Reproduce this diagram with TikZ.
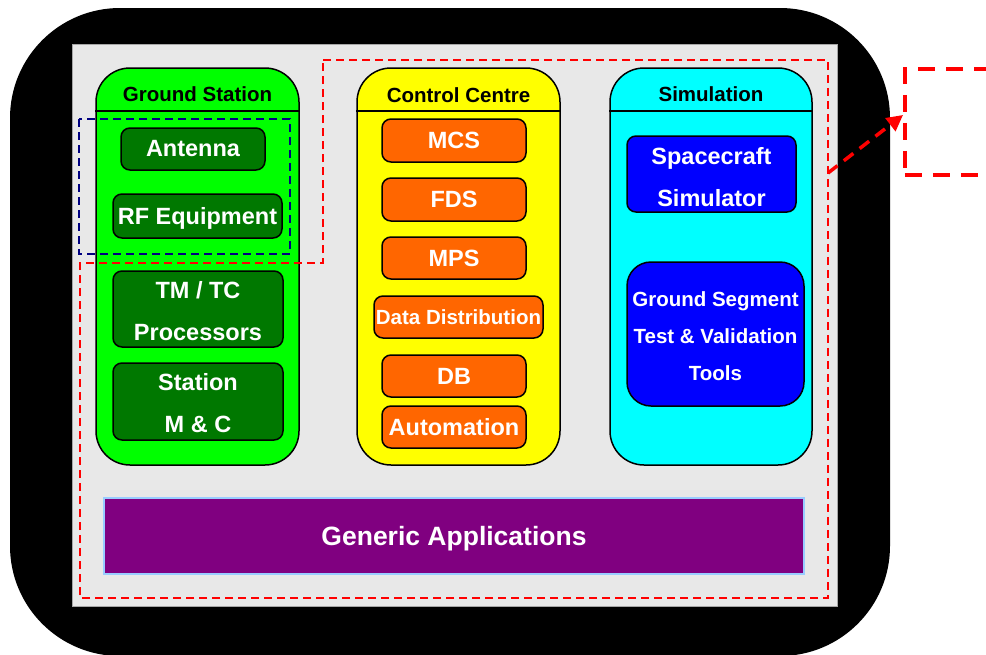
\documentclass[tikz,border=0pt]{standalone}
\usepackage{fontspec}
\setmainfont{Liberation Sans}
\usetikzlibrary{arrows.meta}
\definecolor{bggray}{HTML}{E8E8E8}
\definecolor{dkgreen}{HTML}{007800}
\definecolor{orng}{HTML}{FF6600}
\definecolor{purp}{HTML}{800080}
\definecolor{ltblue}{HTML}{99CCFF}
\definecolor{navyb}{HTML}{000080}
\definecolor{redd}{HTML}{FF0000}
\definecolor{brgreen}{HTML}{00FF00}
\definecolor{bryellow}{HTML}{FFFF00}
\definecolor{brcyan}{HTML}{00FFFF}
\definecolor{brblue}{HTML}{0000FF}
\tikzset{
  col/.style={draw=black, line width=1.5pt, rounded corners=34pt, inner sep=0pt},
  hdr/.style={font=\bfseries\fontsize{20.5}{24}\selectfont, text=black, inner sep=0pt},
  item/.style={draw=black, line width=1.5pt, rounded corners=9pt, inner sep=0pt, text=white, align=center,
     font=\bfseries\fontsize{23.5}{42}\selectfont},
  gitem/.style={item, fill=dkgreen},
  oitem/.style={item, fill=orng},
  bitem/.style={item, fill=brblue},
  reddash/.style={draw=redd, line width=2pt, dash pattern=on 8pt off 5pt},
}
\begin{document}
\begin{tikzpicture}[x=1pt,y=-1pt]
\useasboundingbox (0,0) rectangle (986,654);
\clip (0,0) rectangle (986,654);
% black rounded background
\fill[black, rounded corners=110pt] (10,8) rectangle (890,656);
% gray panel
\draw[fill=bggray, draw=gray!70, line width=1pt] (72,44) rectangle (837,606);
% columns
\node[col, fill=brgreen, minimum width=203pt, minimum height=397pt] (gs) at (197.5,266.5) {};
\node[col, fill=bryellow, minimum width=203pt, minimum height=397pt] (cc) at (458.5,266.5) {};
\node[col, fill=brcyan, minimum width=202pt, minimum height=397pt] (sim) at (711,266.5) {};
\draw[line width=1.5pt] (gs.west |- 0,111) -- (gs.east |- 0,111);
\draw[line width=1.5pt] (cc.west |- 0,111) -- (cc.east |- 0,111);
\draw[line width=1.5pt] (sim.west |- 0,111) -- (sim.east |- 0,111);
\node[hdr] (gsh) at (197.5,94) {Ground Station};
\node[hdr] (cch) at (458.5,95) {Control Centre};
\node[hdr] (simh) at (711,94) {Simulation};
% ground station items
\node[gitem, minimum width=144pt, minimum height=42pt] (ant) at (193,149) {Antenna};
\node[gitem, minimum width=169pt, minimum height=44pt, text depth=0pt] (rf) at (197.5,216) {RF Equipment};
\node[gitem, minimum width=170pt, minimum height=76pt] (tmtc) at (198,309) {};
\node[text=white, font=\bfseries\fontsize{23.5}{42}\selectfont, align=center, inner sep=0pt] (tmtct) at (198,311) {TM / TC\\Processors};
\node[gitem, minimum width=170pt, minimum height=77pt] (smc) at (198,401.5) {};
\node[text=white, font=\bfseries\fontsize{23.5}{42}\selectfont, align=center, inner sep=0pt] (smct) at (198,403) {Station\\M \& C};
% control centre items
\node[oitem, minimum width=144pt, minimum height=43pt] (mcs) at (454,140.5) {MCS};
\node[oitem, minimum width=144pt, minimum height=43pt] (fds) at (454,199.5) {FDS};
\node[oitem, minimum width=144pt, minimum height=42pt] (mps) at (454,258) {MPS};
\node[oitem, minimum width=169pt, minimum height=42pt, font=\bfseries\fontsize{20.5}{24}\selectfont] (dd) at (458.5,317) {Data Distribution};
\node[oitem, minimum width=144pt, minimum height=42pt] (db) at (454,376) {DB};
\node[oitem, minimum width=144pt, minimum height=42pt] (aut) at (454,427) {Automation};
% simulation items
\node[bitem, minimum width=169pt, minimum height=76pt] (scs) at (711.5,174) {};
\node[text=white, font=\bfseries\fontsize{23.5}{42}\selectfont, align=center, inner sep=0pt] (scst) at (711.5,177.5) {Spacecraft\\Simulator};
\node[bitem, minimum width=177pt, minimum height=144pt, rounded corners=24pt] (gst) at (715.5,334) {};
\node[text=white, font=\bfseries\fontsize{20.5}{37}\selectfont, align=center, inner sep=0pt] (gstt) at (715.5,336) {Ground Segment\\Test \& Validation\\Tools};
% generic applications
\node[draw=ltblue, line width=2pt, fill=purp, minimum width=700pt, minimum height=76pt, inner sep=0pt, text depth=0pt,
      text=white, font=\bfseries\fontsize{26.5}{30}\selectfont] (gen) at (454,536) {Generic Applications};
% dashed outlines
\draw[reddash] (323,60) -- (828,60) -- (828,598) -- (80,598) -- (80,263) -- (323,263) -- cycle;
\draw[draw=navyb, line width=1.6pt, dash pattern=on 8pt off 5pt] (79,119) rectangle (290,254);
% external dashed box and arrow
\node[draw=redd, line width=3.5pt, dash pattern=on 17pt off 11pt, minimum width=130pt, minimum height=106pt, inner sep=0pt, anchor=north west] (ext) at (903,67) {};
\coordinate (arrS) at (828,173);
\coordinate (arrE) at (903,115);
\draw[draw=redd, line width=3.5pt, dash pattern=on 12pt off 8pt, -{Triangle[length=16pt,width=16pt]}] (arrS) -- (arrE);
\end{tikzpicture}
\end{document}
